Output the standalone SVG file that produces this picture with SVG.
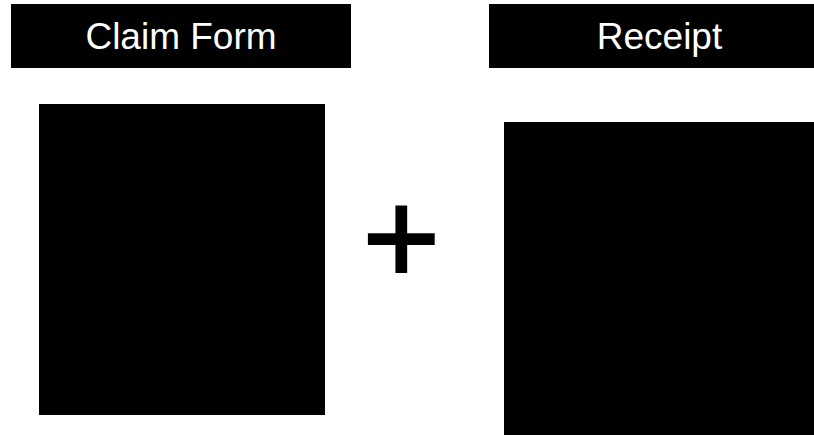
<svg xmlns="http://www.w3.org/2000/svg" width="814" height="435" viewBox="0 0 814 435">
<style>
.box{fill:#000}
.lbl{fill:#fff;font-family:"Liberation Sans",Arial,sans-serif;font-size:37px;text-anchor:middle}
.plus{fill:#000;stroke:#000;stroke-width:2.2px;font-family:"Liberation Sans",Arial,sans-serif;font-size:133px;text-anchor:middle}
</style>
<rect width="814" height="435" fill="#fff"/>
<g id="claim-form">
<rect class="box" x="11" y="4" width="340" height="64"/>
<text class="lbl" x="181" y="48.5">Claim Form</text>
<rect class="box" x="39" y="104" width="286" height="311"/>
</g>
<g id="plus">
<text class="plus" x="401.3" y="283.5">+</text>
</g>
<g id="receipt">
<rect class="box" x="489" y="4" width="340" height="64"/>
<text class="lbl" x="659.5" y="48.5">Receipt</text>
<rect class="box" x="504" y="122" width="310" height="313"/>
</g>
<g id="connectors"/>
</svg>
